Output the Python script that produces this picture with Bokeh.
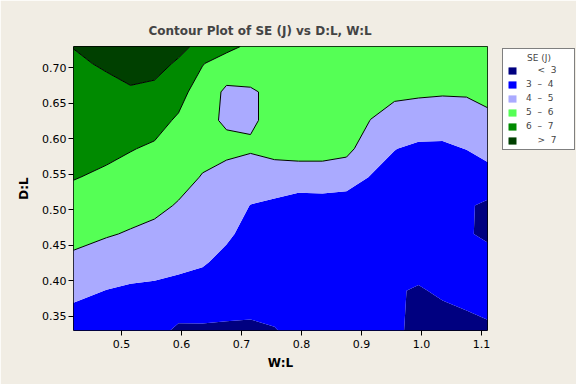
import numpy as np
from bokeh.plotting import figure
from bokeh.models import Legend, LegendItem, FixedTicker, PrintfTickFormatter, Range1d
from bokeh.embed import file_html
from bokeh.resources import INLINE

# Grid of W:L (columns) and D:L (rows)
wl = [0.42, 0.475, 0.515, 0.555, 0.595, 0.635, 0.675, 0.715, 0.755,
      0.795, 0.835, 0.875, 0.915, 0.955, 0.995, 1.035, 1.075, 1.11]
dl = [0.33, 0.386, 0.426, 0.466, 0.506, 0.546, 0.586, 0.626, 0.666, 0.706, 0.73]

# SE (J) estimated at each grid point, one list per W:L column (bottom to top in D:L)
se_cols = [
    [3.45, 4.24, 4.80, 5.27, 5.67, 6.04, 6.25, 6.46, 6.67, 6.88, 7.02],
    [3.30, 3.98, 4.54, 5.07, 5.47, 5.86, 6.19, 6.49, 6.79, 7.09, 7.27],
    [3.30, 3.87, 4.40, 4.93, 5.32, 5.68, 6.04, 6.48, 6.91, 7.30, 7.50],
    [3.30, 3.83, 4.31, 4.79, 5.19, 5.53, 5.88, 6.31, 6.80, 7.28, 7.50],
    [2.84, 3.73, 4.20, 4.57, 4.94, 5.26, 5.57, 5.88, 6.34, 6.89, 7.22],
    [2.87, 3.61, 4.08, 4.37, 4.66, 4.96, 5.23, 5.30, 5.50, 6.05, 6.76],
    [2.88, 3.40, 3.78, 4.13, 4.45, 4.55, 5.30, 4.85, 4.85, 5.50, 6.30],
    [2.90, 3.26, 3.50, 3.74, 3.98, 4.49, 5.10, 4.90, 4.90, 5.50, 5.78],
    [2.97, 3.28, 3.49, 3.70, 3.80, 4.60, 5.25, 5.20, 5.20, 5.40, 5.50],
    [3.17, 3.25, 3.35, 3.45, 3.55, 4.55, 5.35, 5.45, 5.50, 5.55, 5.55],
    [3.25, 3.30, 3.40, 3.50, 3.60, 4.55, 5.35, 5.45, 5.50, 5.55, 5.60],
    [3.30, 3.35, 3.42, 3.50, 3.60, 4.40, 5.25, 5.40, 5.50, 5.55, 5.60],
    [3.20, 3.30, 3.40, 3.50, 3.70, 3.96, 4.48, 4.99, 5.30, 5.45, 5.50],
    [3.20, 3.05, 3.30, 3.45, 3.60, 3.75, 4.02, 4.60, 5.20, 5.40, 5.45],
    [2.70, 2.95, 3.20, 3.40, 3.55, 3.70, 3.85, 4.45, 5.15, 5.35, 5.40],
    [2.75, 3.08, 3.25, 3.35, 3.50, 3.65, 3.85, 4.40, 5.10, 5.35, 5.40],
    [2.85, 3.15, 3.20, 3.08, 3.10, 3.50, 4.02, 4.55, 5.10, 5.30, 5.35],
    [2.90, 3.27, 3.35, 2.85, 2.85, 3.60, 4.35, 4.80, 5.25, 5.35, 5.40],
]

levels = [2.0, 3, 4, 5, 6, 7, 8.5]
band_labels = ["\u00a0\u00a0\u00a0\u00a0<\u00a0\u00a03",
               "3\u00a0\u00a0\u2013\u00a0\u00a04",
               "4\u00a0\u00a0\u2013\u00a0\u00a05",
               "5\u00a0\u00a0\u2013\u00a0\u00a06",
               "6\u00a0\u00a0\u2013\u00a0\u00a07",
               "\u00a0\u00a0\u00a0\u00a0>\u00a0\u00a07"]
legend_title = "\u00a0\u00a0\u00a0\u00a0\u00a0\u00a0\u00a0SE (J)"
band_colors = ["#000080", "#0000FF", "#AAAAFF", "#55FF55", "#008A00", "#004000"]
line_alphas = [0, 0, 0, 1, 1, 1, 0]

x_ticks = [0.5, 0.6, 0.7, 0.8, 0.9, 1.0, 1.1]
y_ticks = [0.35, 0.40, 0.45, 0.50, 0.55, 0.60, 0.65, 0.70]

z = np.array(se_cols).T  # rows = D:L, columns = W:L

p = figure(frame_width=414, frame_height=284,
           x_range=Range1d(0.42, 1.11), y_range=Range1d(0.33, 0.73),
           output_backend="svg", toolbar_location=None,
           min_border_left=73, min_border_right=89, min_border_top=46, min_border_bottom=54,
           border_fill_color="#F1EDE4", background_fill_color="white",
           outline_line_color="black", outline_line_width=1)

cr = p.contour(wl, dl, z, levels, fill_color=band_colors,
               line_color="black", line_width=1, line_alpha=line_alphas)

p.title.text = "Contour Plot of SE (J) vs D:L, W:L"
p.title.text_font = "DejaVu Sans"
p.title.text_font_size = "12px"
p.title.text_font_style = "bold"
p.title.align = "left"
p.title.offset = 75
p.title.standoff = 17

p.grid.visible = False
p.xaxis.ticker = FixedTicker(ticks=x_ticks)
p.yaxis.ticker = FixedTicker(ticks=y_ticks)
p.xaxis.formatter = PrintfTickFormatter(format="%.1f")
p.yaxis.formatter = PrintfTickFormatter(format="%.2f")
p.xaxis.axis_label = "W:L"
p.yaxis.axis_label = "D:L"
for ax in (p.xaxis, p.yaxis):
    ax.axis_line_color = None
    ax.minor_tick_line_color = None
    ax.major_tick_in = 0
    ax.major_tick_out = 5
    ax.major_tick_line_color = "black"
    ax.major_label_text_font = "DejaVu Sans"
    ax.major_label_text_font_size = "11px"
    ax.major_label_text_color = "black"
    ax.axis_label_text_font = "DejaVu Sans"
    ax.axis_label_text_font_size = "12px"
    ax.axis_label_text_font_style = "bold"
    ax.axis_label_text_color = "black"
p.xaxis.major_label_standoff = 4
p.xaxis.axis_label_standoff = 5
p.yaxis.major_label_standoff = 2
p.yaxis.axis_label_standoff = 8

items = [LegendItem(label=band_labels[i], renderers=[cr.fill_renderer], index=i)
         for i in range(len(band_labels))]
legend = Legend(items=items, title=legend_title, location=(15, 180),
                orientation="vertical", margin=0)
legend.title_text_font = "DejaVu Sans"
legend.title_text_font_size = "9px"
legend.title_text_font_style = "normal"
legend.label_text_font = "DejaVu Sans"
legend.label_text_font_size = "9px"
legend.glyph_width = 10
legend.glyph_height = 9
legend.label_height = 9
legend.label_standoff = 9
legend.spacing = 4
legend.padding = 4
legend.title_standoff = 2
legend.border_line_color = "black"
legend.border_line_width = 1
legend.background_fill_color = "white"
legend.background_fill_alpha = 1
legend.label_width = 44
p.add_layout(legend, "right")

open("out.html", "w").write(file_html(p, INLINE))
